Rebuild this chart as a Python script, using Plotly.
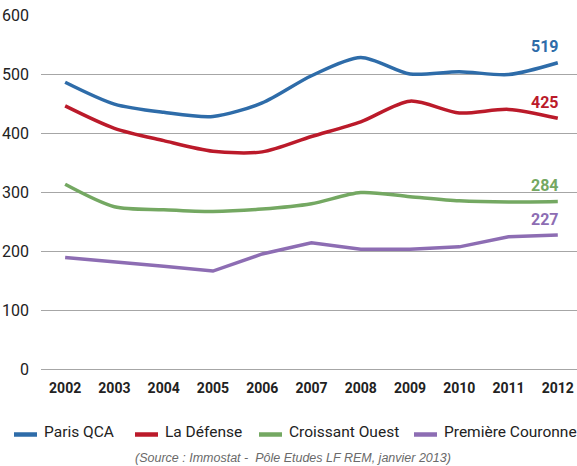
import plotly.graph_objects as go

years = [2002, 2003, 2004, 2005, 2006, 2007, 2008, 2009, 2010, 2011, 2012]
paris_qca = [486, 449, 435, 428, 451, 497, 528, 500, 504, 499, 519]
la_defense = [446, 408, 387, 369, 368, 394, 419, 454, 434, 440, 425]
croissant_ouest = [313, 275, 270, 267, 271, 280, 299, 292, 285, 283, 284]
premiere_couronne = [189, 182, 174, 166, 195, 214, 203, 203, 207, 224, 227]
names = ["Paris QCA", "La Défense", "Croissant Ouest", "Première Couronne"]
colors = ["#2e6ca9", "#bb1a2a", "#74a862", "#8d6db3"]
series = [paris_qca, la_defense, croissant_ouest, premiere_couronne]
shapes_ = ["spline", "spline", "spline", "linear"]
y_ticks = [0, 100, 200, 300, 400, 500, 600]

FONT = "Roboto, sans-serif"
W, H = 577, 466
ML, MR, MT, MB = 41, 0, 15, 97
PW, PH = W - ML - MR, H - MT - MB


def px_x(px):
    return (px - ML) / PW


def px_y(py):
    return (H - MB - py) / PH


fig = go.Figure()
for name, vals, col, shp in zip(names, series, colors, shapes_):
    fig.add_trace(go.Scatter(
        x=years, y=vals, name=name, mode="lines", showlegend=False,
        line=dict(color=col, width=3.5, shape=shp, smoothing=0.8),
    ))
    fig.add_annotation(
        x=years[-1], y=vals[-1], text="<b>%d</b>" % vals[-1],
        showarrow=False, xanchor="right", yanchor="middle",
        xshift=3, yshift=16,
        font=dict(family=FONT, size=16, color=col),
    )

# manual legend (swatch + label)
swatch_starts = [14, 135, 259, 414]
for name, col, sx in zip(names, colors, swatch_starts):
    fig.add_shape(
        type="line", xref="paper", yref="paper",
        x0=px_x(sx), x1=px_x(sx + 23), y0=px_y(434.5), y1=px_y(434.5),
        line=dict(color=col, width=4.5),
    )
    fig.add_annotation(
        xref="paper", yref="paper", x=px_x(sx + 28), y=px_y(432),
        text=name, showarrow=False, xanchor="left", yanchor="middle",
        font=dict(family=FONT, size=15.5, color="#222222"),
    )

fig.add_annotation(
    xref="paper", yref="paper", x=px_x(293), y=px_y(458),
    text="<i>(Source : Immostat -  Pôle Etudes LF REM, janvier 2013)</i>",
    showarrow=False, xanchor="center", yanchor="middle",
    font=dict(family="Liberation Sans, Arial, sans-serif", size=12.5, color="#6a6a6a"),
)

fig.update_layout(
    width=W, height=H,
    margin=dict(l=ML, r=MR, t=MT, b=MB),
    paper_bgcolor="white", plot_bgcolor="white",
    font=dict(family=FONT, color="#222222"),
    showlegend=False,
    xaxis=dict(
        range=[2001.51, 2012.39], tickmode="array", tickvals=years,
        ticktext=["<b>%d</b>" % y for y in years],
        showgrid=False, zeroline=False, showline=False, ticks="",
        ticklabelstandoff=9,
        tickfont=dict(family=FONT, size=14, color="#222222"),
    ),
    yaxis=dict(
        range=[0, 600], tickmode="array", tickvals=y_ticks,
        showgrid=True, gridcolor="#a6a6a6", gridwidth=1.2,
        zeroline=True, zerolinecolor="#a6a6a6", zerolinewidth=1.2,
        ticks="", ticklabelstandoff=11,
        tickfont=dict(family=FONT, size=16, color="#222222"),
    ),
)

fig.write_html("out.html")
